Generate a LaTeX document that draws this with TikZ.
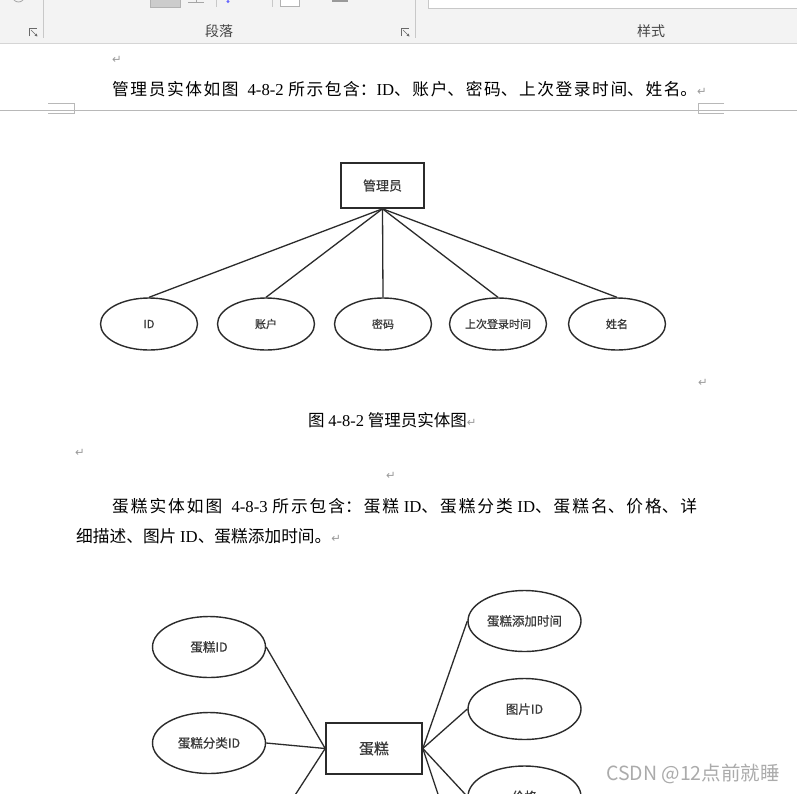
\documentclass[tikz,border=0pt]{standalone}
\usepackage{fontspec}
\setmainfont{Liberation Serif}
\newfontfamily\cjk{Noto Sans CJK SC}
\newfontfamily\cjkb[FakeBold=0.7]{Noto Sans CJK SC}
\newfontfamily\djv{DejaVu Sans}
\usetikzlibrary{shapes.geometric,arrows.meta}
\XeTeXlinebreaklocale "zh"
\XeTeXlinebreakskip=0pt plus 4pt
\definecolor{tbbg}{HTML}{F3F3F3}
\definecolor{tbline}{HTML}{D5D5D5}
\definecolor{tbsep}{HTML}{C8C8C8}
\definecolor{tbtext}{HTML}{444444}
\definecolor{retc}{HTML}{9A9A9A}
\definecolor{pgline}{HTML}{B8B8B8}
\definecolor{erline}{HTML}{2B2B2B}
\definecolor{ertext}{HTML}{3A3A3A}
\definecolor{wm}{HTML}{ABABAB}
\newcommand\lat[1]{{\rmfamily #1}}
\newcommand\ret{{\djv\fontsize{11.5}{11.5}\selectfont\color{retc}↵}}
\tikzset{
  ent/.style={draw=erline, line width=1.6pt, fill=white, inner sep=0pt, text=ertext},
  attr/.style={ellipse, draw=erline, line width=1.4pt, inner sep=0pt, text=ertext},
  rel/.style={draw=erline, line width=1.3pt},
  body/.style={inner sep=0pt, anchor=base west},
  tblabel/.style={font=\cjk\fontsize{14}{14}\selectfont, text=tbtext, inner sep=0pt},
  pil/.style={inner sep=0pt},
  launcher/.style={draw=tbtext!80, line width=0.7pt},
}
\begin{document}
\begin{tikzpicture}[x=1pt,y=-1pt]
\useasboundingbox (0,0) rectangle (797,793);
\clip (0,0) rectangle (797,793);
\fill[white] (0,0) rectangle (797,793);
% ---------- ribbon ----------
\fill[tbbg] (0,0) rectangle (797,43);
\draw[tbline, line width=1pt] (0,43.5) -- (797,43.5);
\draw[tbsep, line width=1pt] (43.5,0) -- (43.5,38);
\draw[tbsep, line width=1pt] (415.5,0) -- (415.5,38);
\draw[gray!70, line width=0.8pt] (18.5,-4) circle (6);
\filldraw[fill=white, draw=tbsep] (428,-2) rectangle (799,8);
\filldraw[fill=gray!40, draw=gray!60] (150,-2) rectangle (180,7);
\draw[gray!70, line width=0.8pt] (188,2.5) -- (204,2.5);
\draw[gray!70, line width=0.8pt] (196,-1) -- (196,2.5);
\draw[tbsep, line width=1pt] (216.5,0) -- (216.5,7);
\fill[blue!60] (228,1.5) circle (1.6);
\draw[tbsep, line width=1pt] (272.5,0) -- (272.5,7);
\filldraw[fill=white, draw=gray!60] (280,-2) rectangle (299,6);
\fill[gray!80] (332,-1) rectangle (348,1.5);
\node[tblabel] (tbpara) at (219,31) {段落};
\node[tblabel] (tbstyle) at (651,31) {样式};
\draw[launcher] (29.5,36) -- (29.5,28.5) -- (37,28.5);
\draw[launcher, -{Stealth[length=3pt,width=3pt]}] (31,30) -- (37.5,36.5);
\draw[launcher] (401.5,36) -- (401.5,28.5) -- (409,28.5);
\draw[launcher, -{Stealth[length=3pt,width=3pt]}] (403,30) -- (409.5,36.5);
% ---------- page text ----------
\node[pil] (r1) at (117,60) {\ret};
\node[inner sep=0pt, anchor=north west, text width=585pt, align=justify,
      font=\cjk\fontsize{16.7}{20}\selectfont] (p1) at (112,81.5)
  {管理员实体如图 \ \lat{4-8-2} 所示包含：\lat{ID}、账户、密码、上次登录时间、姓名。\rlap{\ret}\linebreak\mbox{}};
\draw[pgline, line width=1pt] (0,110.5) -- (797,110.5);
\draw[pgline, line width=1pt] (48,103.5) -- (74.5,103.5) -- (74.5,113.5) -- (48,113.5);
\draw[pgline, line width=1pt] (724,103.5) -- (698.5,103.5) -- (698.5,113.5) -- (724,113.5);
% ---------- ER diagram 1 ----------
\node[ent, minimum width=83pt, minimum height=45pt, font=\cjkb\fontsize{13}{13}\selectfont] (admin) at (382.5,185.5) {管理员};
\begin{scope}[every node/.append style={attr, minimum width=97pt, minimum height=52pt, font=\cjkb\fontsize{11}{11}\selectfont}]
\node (aid) at (149,324) {ID};
\node (aacc) at (266,324) {账户};
\node (apwd) at (383,324) {密码};
\node (alast) at (498,324) {上次登录时间};
\node (aname) at (617,324) {姓名};
\end{scope}
\draw[rel] (admin.south) -- (aid.north);
\draw[rel] (admin.south) -- (aacc.north);
\draw[rel] (admin.south) -- (apwd.north);
\draw[rel] (admin.south) -- (alast.north);
\draw[rel] (admin.south) -- (aname.north);
\node[pil] (r2) at (703,383) {\ret};
\node[body, font=\cjk\fontsize{16.5}{19}\selectfont] (cap) at (308,426) {图 \lat{4-8-2} 管理员实体图\ret};
\node[pil] (r3) at (80,453) {\ret};
\node[pil] (r4) at (391,476) {\ret};
\node[inner sep=0pt, anchor=north west, text width=621pt, align=justify,
      font=\cjk\fontsize{16.7}{30}\selectfont] (p2) at (76,498)
  {\hspace*{36pt}蛋糕实体如图 \ \lat{4-8-3} 所示包含：蛋糕 \lat{ID}、蛋糕分类 \lat{ID}、蛋糕名、价格、详\linebreak 细描述、图片 \lat{ID}、蛋糕添加时间。\ret};
% ---------- ER diagram 2 ----------
\node[ent, minimum width=96pt, minimum height=51pt, font=\cjkb\fontsize{15}{15}\selectfont] (cake) at (374,748.5) {蛋糕};
\begin{scope}[every node/.append style={attr, minimum width=113pt, minimum height=61pt, font=\cjkb\fontsize{12.5}{12.5}\selectfont}]
\node (cid) at (209,647) {蛋糕ID};
\node (ccat) at (209,743) {蛋糕分类ID};
\node (ctime) at (524.5,621) {蛋糕添加时间};
\node (cpic) at (524.5,709) {图片ID};
\node (cprice) at (524.5,796.5) {价格};
\end{scope}
\coordinate (cnameE) at (266,840);
\coordinate (cdescW) at (468,884);
\draw[rel] (cid.east) -- (cake.west);
\draw[rel] (ccat.east) -- (cake.west);
\draw[rel] (cake.west) -- (cnameE);
\draw[rel] (cake.east) -- (ctime.west);
\draw[rel] (cake.east) -- (cpic.west);
\draw[rel] (cake.east) -- (cprice.west);
\draw[rel] (cake.east) -- (cdescW);
% ---------- watermark ----------
\node[body, font=\cjk\fontsize{19.5}{19.5}\selectfont, text=wm] (wmk) at (606,780.5) {CSDN @12点前就睡};
\end{tikzpicture}
\end{document}
